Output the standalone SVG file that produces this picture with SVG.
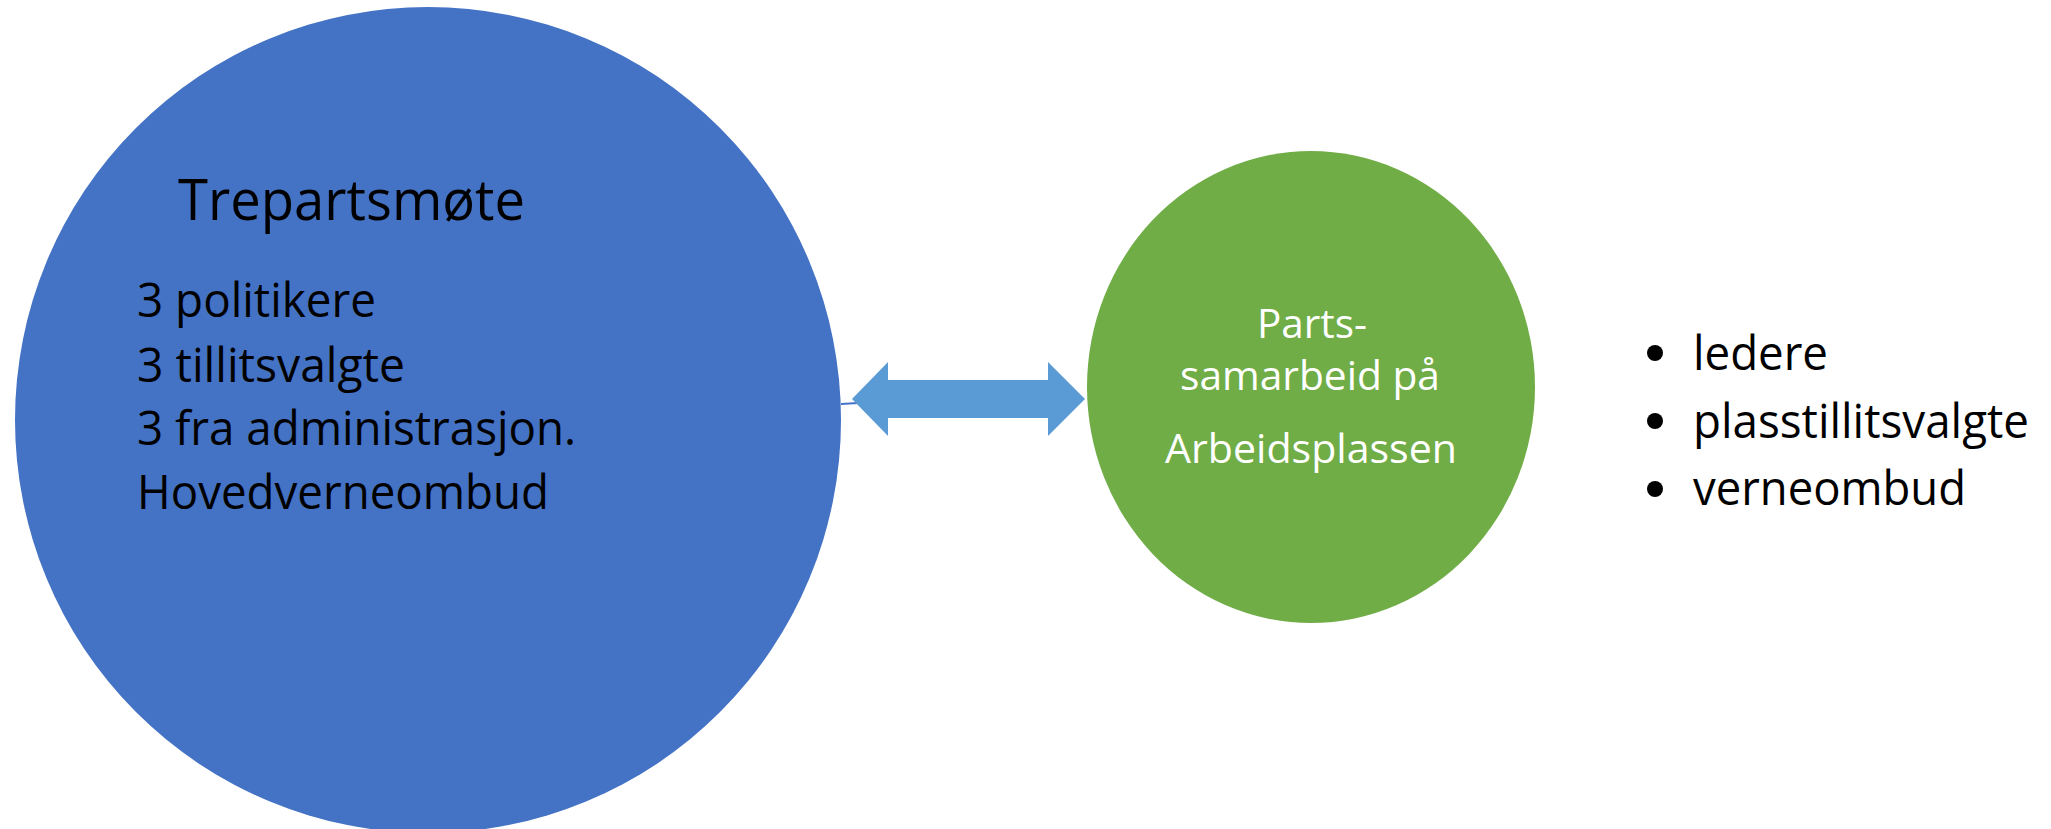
<svg xmlns="http://www.w3.org/2000/svg" width="2051" height="829" viewBox="0 0 2051 829">
  <style>
    .dark { font-family: "Open Sans", "Noto Sans", "Liberation Sans", sans-serif; fill: #000000; }
    .light { font-family: "Open Sans", "Noto Sans", "Liberation Sans", sans-serif; fill: #FFFFFF; text-anchor: middle; }
  </style>
  <rect width="2051" height="829" fill="#FFFFFF"/>

  <!-- connectors -->
  <g id="connectors">
    <line x1="841" y1="404" x2="858" y2="403" stroke="#4472C4" stroke-width="2"/>
    <polygon points="852,399 888,362 888,380 1048,380 1048,362 1085,399 1048,436 1048,418 888,418 888,436" fill="#5B9BD5"/>
  </g>

  <!-- left node: three-party meeting -->
  <g id="node-trepartsmote">
    <circle cx="428" cy="420" r="413" fill="#4472C4"/>
    <text class="dark" x="178" y="220" font-size="56" textLength="347" lengthAdjust="spacingAndGlyphs">Trepartsmøte</text>
    <text class="dark" x="137" y="317" font-size="47" textLength="239" lengthAdjust="spacingAndGlyphs">3 politikere</text>
    <text class="dark" x="137" y="382" font-size="47" textLength="268" lengthAdjust="spacingAndGlyphs">3 tillitsvalgte</text>
    <text class="dark" x="137" y="445" font-size="47" textLength="439" lengthAdjust="spacingAndGlyphs">3 fra administrasjon.</text>
    <text class="dark" x="137" y="509" font-size="47" textLength="412" lengthAdjust="spacingAndGlyphs">Hovedverneombud</text>
  </g>

  <!-- right node: workplace cooperation -->
  <g id="node-partssamarbeid">
    <ellipse cx="1311" cy="387" rx="224" ry="236" fill="#70AD47"/>
    <text class="light" x="1312" y="338" font-size="41" textLength="110" lengthAdjust="spacingAndGlyphs">Parts-</text>
    <text class="light" x="1310" y="390" font-size="41" textLength="260" lengthAdjust="spacingAndGlyphs">samarbeid på</text>
    <text class="light" x="1311" y="463" font-size="41" textLength="292" lengthAdjust="spacingAndGlyphs">Arbeidsplassen</text>
  </g>

  <!-- bullet list -->
  <g id="node-list">
    <circle cx="1655" cy="353" r="8" fill="#000000"/>
    <circle cx="1655" cy="421" r="8" fill="#000000"/>
    <circle cx="1655" cy="489" r="8" fill="#000000"/>
    <text class="dark" x="1693" y="370" font-size="48" textLength="135" lengthAdjust="spacingAndGlyphs">ledere</text>
    <text class="dark" x="1693" y="438" font-size="48" textLength="336" lengthAdjust="spacingAndGlyphs">plasstillitsvalgte</text>
    <text class="dark" x="1693" y="505" font-size="48" textLength="273" lengthAdjust="spacingAndGlyphs">verneombud</text>
  </g>
</svg>
